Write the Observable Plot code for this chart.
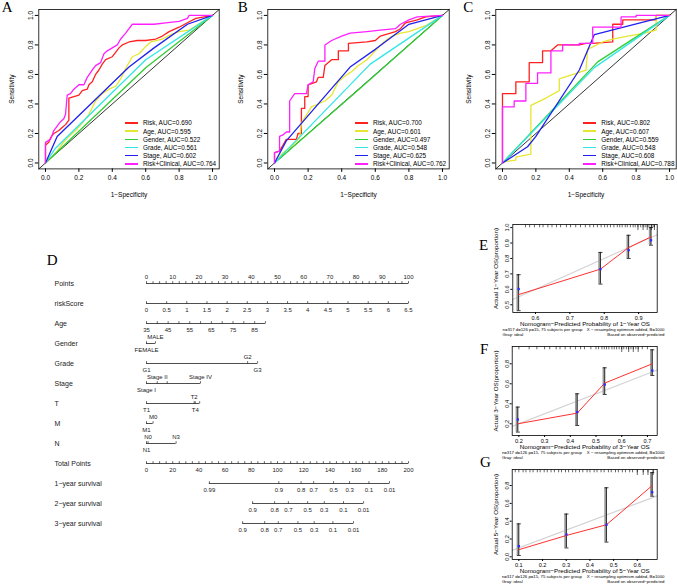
<!DOCTYPE html>
<html><head><meta charset="utf-8">
<script src="https://cdn.jsdelivr.net/npm/d3@7"></script>
<script src="https://cdn.jsdelivr.net/npm/@observablehq/plot@0.6"></script>
<style>
body{margin:0;background:#fff;}
#fig{position:relative;width:677px;height:585px;overflow:hidden;background:#fff;font-family:"Liberation Sans",Arial,sans-serif;}
.panel{position:absolute;}
.panel svg{background:transparent !important;}
.letter{position:absolute;font-family:"Liberation Serif","Times New Roman",serif;font-size:15px;line-height:15px;color:#000;}
.legend{position:absolute;font-size:6.4px;color:#000;}
.legend .row{display:flex;align-items:center;height:8.2px;white-space:nowrap;}
.legend .sw{display:inline-block;width:13px;height:1.5px;margin-right:5px;}
</style></head><body><div id="fig"></div><script>
// ---------------- ROC data ----------------
const seriesNames = ["Risk","Age","Gender","Grade","Stage","Risk+Clinical"];
const seriesColors = ["#ff2020","#e6e632","#32cd32","#32e6e6","#2020f0","#ff20ff"];
const aucA = [0.690,0.595,0.522,0.561,0.602,0.764];
const aucB = [0.700,0.601,0.497,0.548,0.625,0.762];
const aucC = [0.802,0.607,0.559,0.548,0.608,0.788];
const rocTicks = [0,0.2,0.4,0.6,0.8,1.0];
const rocDomain = [-0.04,1.04];

const rocA_risk = [[0,0],[0,0.12],[0.02,0.14],[0.03,0.17],[0.05,0.2],[0.08,0.22],[0.1,0.24],[0.12,0.26],[0.14,0.29],[0.14,0.44],[0.17,0.45],[0.2,0.46],[0.22,0.49],[0.25,0.5],[0.26,0.53],[0.28,0.55],[0.3,0.6],[0.32,0.63],[0.34,0.67],[0.36,0.7],[0.4,0.72],[0.42,0.75],[0.44,0.78],[0.46,0.8],[0.5,0.82],[0.55,0.83],[0.6,0.83],[0.66,0.84],[0.7,0.86],[0.74,0.89],[0.8,0.92],[0.85,0.95],[0.9,0.98],[1,1]];
const rocA_age = [[0,0],[0.03,0.03],[0.07,0.08],[0.1,0.13],[0.14,0.18],[0.18,0.22],[0.22,0.27],[0.26,0.33],[0.3,0.42],[0.34,0.47],[0.38,0.5],[0.42,0.52],[0.45,0.57],[0.48,0.64],[0.52,0.72],[0.56,0.74],[0.6,0.79],[0.63,0.82],[0.7,0.84],[0.75,0.87],[0.8,0.89],[0.86,0.9],[0.9,0.93],[1,1]];
const rocA_gender = [[0,0],[0.6,0.645],[1,1]];
const rocA_grade = [[0,0],[0.06,0.1],[0.6,0.7],[1,1]];
const rocA_stage = [[0,0],[0.07,0.18],[0.5,0.65],[0.65,0.78],[0.85,0.94],[1,1]];
const rocA_combo = [[0,0],[0,0.14],[0.03,0.16],[0.05,0.22],[0.07,0.25],[0.09,0.28],[0.11,0.3],[0.12,0.33],[0.13,0.46],[0.15,0.47],[0.17,0.5],[0.2,0.53],[0.23,0.53],[0.25,0.58],[0.28,0.63],[0.3,0.66],[0.33,0.68],[0.35,0.74],[0.37,0.76],[0.4,0.78],[0.43,0.8],[0.45,0.84],[0.48,0.88],[0.5,0.91],[0.52,0.94],[0.65,0.94],[0.72,0.95],[0.8,0.96],[0.85,0.98],[0.86,1],[1,1]];

const rocB_risk = [[0,0],[0,0.07],[0.03,0.08],[0.05,0.12],[0.07,0.16],[0.13,0.16],[0.14,0.2],[0.16,0.2],[0.16,0.37],[0.18,0.37],[0.18,0.45],[0.2,0.45],[0.2,0.53],[0.25,0.55],[0.26,0.58],[0.29,0.58],[0.3,0.66],[0.34,0.7],[0.38,0.7],[0.38,0.76],[0.44,0.76],[0.44,0.81],[0.55,0.82],[0.6,0.83],[0.63,0.86],[0.72,0.89],[0.75,0.91],[0.78,0.95],[0.85,0.97],[0.9,0.99],[1,1]];
const rocB_age = [[0,0],[0.05,0.07],[0.1,0.11],[0.15,0.17],[0.16,0.27],[0.22,0.38],[0.3,0.42],[0.34,0.46],[0.38,0.55],[0.42,0.59],[0.46,0.62],[0.5,0.66],[0.55,0.7],[0.6,0.76],[0.65,0.82],[0.7,0.86],[0.75,0.88],[0.8,0.89],[0.9,0.93],[1,1]];
const rocB_gender = [[0,0],[0.5,0.497],[1,1]];
const rocB_grade = [[0,0],[0.05,0.06],[0.57,0.67],[1,1]];
const rocB_stage = [[0,0],[0.07,0.15],[0.45,0.65],[0.6,0.77],[0.8,0.94],[1,1]];
const rocB_combo = [[0,0],[0,0.07],[0.03,0.08],[0.03,0.18],[0.05,0.19],[0.07,0.21],[0.09,0.21],[0.09,0.42],[0.12,0.47],[0.19,0.47],[0.2,0.53],[0.23,0.55],[0.24,0.64],[0.26,0.69],[0.3,0.69],[0.3,0.8],[0.34,0.83],[0.4,0.86],[0.45,0.88],[0.55,0.89],[0.63,0.9],[0.72,0.91],[0.75,0.94],[0.8,0.97],[0.85,0.99],[1,1]];

const rocC_risk = [[0,0],[0,0.47],[0.08,0.47],[0.08,0.55],[0.16,0.55],[0.16,0.68],[0.24,0.68],[0.24,0.76],[0.29,0.76],[0.33,0.8],[0.46,0.8],[0.5,0.81],[0.54,0.81],[0.66,0.82],[0.66,0.94],[0.72,0.94],[0.72,0.97],[0.92,0.97],[0.92,1],[1,1]];
const rocC_age = [[0,0],[0.02,0.01],[0.08,0.02],[0.08,0.04],[0.17,0.06],[0.17,0.39],[0.26,0.44],[0.34,0.49],[0.34,0.57],[0.5,0.63],[0.51,0.77],[0.6,0.82],[0.66,0.84],[0.75,0.86],[0.85,0.88],[0.92,0.9],[0.92,1],[1,1]];
const rocC_gender = [[0,0],[0.57,0.685],[1,1]];
const rocC_grade = [[0,0],[0.55,0.646],[1,1]];
const rocC_stage = [[0,0],[0.15,0.11],[0.2,0.18],[0.46,0.63],[0.55,0.87],[1,1]];
const rocC_combo = [[0,0],[0,0.38],[0.07,0.38],[0.07,0.42],[0.14,0.42],[0.14,0.54],[0.21,0.54],[0.21,0.61],[0.29,0.61],[0.29,0.76],[0.36,0.76],[0.36,0.8],[0.46,0.8],[0.46,0.81],[0.54,0.81],[0.54,0.92],[0.71,0.92],[0.71,0.99],[0.8,0.99],[0.8,1],[1,1]];

// ---------------- Nomogram data ----------------
const nomoRows = ["Points","riskScore","Age","Gender","Grade","Stage","T","M","N","Total Points","1\u2212year survival","2\u2212year survival","3\u2212year survival"];
const pointsLabels = [0,10,20,30,40,50,60,70,80,90,100];
const riskScoreLabels = [0,0.5,1,1.5,2,2.5,3,3.5,4,4.5,5,5.5,6,6.5];
const ageLabels = [35,45,55,65,75,85];
const ageRange = [35,90];
const ageMaxPoints = 45.4;
const genderLevels = ["FEMALE","MALE"], genderPoints = [0,3.4], genderSide = ["below","above"];
const gradeLevels = ["G1","G2","G3"], gradePoints = [0,38.6,42.4], gradeSide = ["below","above","below"];
const stageLevels = ["Stage I","Stage II","Stage III","Stage IV"], stagePoints = [0,4.1,7.9,20.6], stageSide = ["below","above","none","above"];
const tLevels = ["T1","T2","T3","T4"], tPoints = [0,18.2,20.3,18.6], tSide = ["below","above","none","below"];
const mLevels = ["M1","M0"], mPoints = [0,2.5], mSide = ["below","above"];
const nLevels = ["N1","N0","N3"], nPoints = [0,0.6,11.3], nSide = ["below","above","above"];
const totalPointsLabels = [0,20,40,60,80,100,120,140,160,180,200];
const surv1Labels = ["0.99","0.9","0.8","0.7","0.5","0.3","0.1","0.01"], surv1Total = [48,101,118,127.6,142.8,155,169.8,185.5];
const surv2Labels = ["0.9","0.8","0.7","0.5","0.3","0.1","0.01"], surv2Total = [81,97.8,108.3,123,135.7,150.4,165.7];
const surv3Labels = ["0.9","0.8","0.7","0.5","0.3","0.1","0.01"], surv3Total = [73.4,90.2,100.6,115.6,128,142.3,158];

// ---------------- Calibration data ----------------
const calFoot = ["n=317 d=126 p=15, 75 subjects per group","X \u2212 resampling optimism added, B=1000","Gray: ideal","Based on observed\u2212predicted"];
const predE = [0.551,0.789,0.871,0.936], fitE = [0.566,0.731,0.871,0.94], obsE = [0.602,0.731,0.854,0.918], loE = [0.462,0.634,0.80,0.886], hiE = [0.695,0.839,0.95,1.0];
const predF = [0.196,0.427,0.534,0.719], fitF = [0.20,0.307,0.607,0.80], obsF = [0.243,0.317,0.593,0.733], loF = [0.117,0.183,0.493,0.683], hiF = [0.367,0.50,0.76,0.94];
const predG = [0.1,0.301,0.47,0.663], fitG = [0.08,0.24,0.36,0.80], obsG = [0.12,0.25,0.36,0.725], loG = [0.015,0.10,0.165,0.68], hiG = [0.37,0.48,0.775,0.945];
const rugE = [0.571,0.583,0.597,0.612,0.622,0.636,0.648,0.661,0.673,0.69,0.702,0.717,0.731,0.745,0.758,0.769,0.78,0.791,0.801,0.809,0.818,0.828,0.838,0.845,0.852,0.861,0.867,0.876,0.884,0.89,0.898,0.906,0.913,0.919,0.925,0.93,0.937,0.942,0.946];
const rugE_long = [0.898,0.913,0.925,0.937,0.946];
const rugF = [0.2,0.24,0.27,0.3,0.32,0.345,0.36,0.38,0.4,0.42,0.44,0.455,0.48,0.5,0.51,0.523,0.532,0.541,0.55,0.562,0.571,0.58,0.59,0.6,0.608,0.618,0.627,0.636,0.645,0.655,0.664,0.68,0.7];
const rugF_long = [0.6,0.627,0.645,0.664];
const rugG = [0.085,0.1,0.118,0.13,0.147,0.16,0.178,0.19,0.207,0.22,0.236,0.25,0.268,0.28,0.297,0.31,0.327,0.34,0.356,0.37,0.388,0.4,0.418,0.43,0.447,0.46,0.478,0.49,0.508,0.52,0.537,0.55,0.568,0.58,0.6,0.625,0.645,0.667];
const rugG_long = [0.6,0.625,0.645,0.667];

// ---------------- helpers ----------------
const fig = document.getElementById("fig");
const FONT = "Liberation Sans, Arial, Helvetica, sans-serif";
function place(node, left, top, width) {
  const d = document.createElement("div");
  d.className = "panel"; d.style.left = left + "px"; d.style.top = top + "px"; d.style.width = width + "px";
  d.appendChild(node); fig.appendChild(d); return d;
}
function letter(t, left, top) {
  const d = document.createElement("div"); d.className = "letter"; d.textContent = t;
  d.style.left = left + "px"; d.style.top = top + "px"; fig.appendChild(d);
}
const tickUpSym = {draw(ctx, size) { const l = Math.sqrt(size / Math.PI); ctx.moveTo(0, 0); ctx.lineTo(0, -l); }};
const tickDownSym = {draw(ctx, size) { const l = Math.sqrt(size / Math.PI); ctx.moveTo(0, 0); ctx.lineTo(0, l); }};
const capSym = {draw(ctx, size) { const l = Math.sqrt(size / Math.PI); ctx.moveTo(-l, 0); ctx.lineTo(l, 0); }};

// ---------------- ROC panels ----------------
function rocPanel(left, width, marginLeft, marginRight, curves) {
  const data = curves.flatMap((c, k) => c.map(([fpr, tpr]) => ({series: seriesNames[k], fpr, tpr})));
  const diag = rocDomain.map(v => ({fpr: v, tpr: v}));
  const chart = Plot.plot({
    width, height: 205, marginTop: 9, marginBottom: 36.6, marginLeft, marginRight,
    style: {fontFamily: FONT, fontSize: "6.5px", color: "#000", background: "transparent", overflow: "visible"},
    x: {domain: rocDomain, ticks: rocTicks, tickFormat: ".1f", tickSize: 3.5, tickPadding: 3, label: null},
    y: {domain: rocDomain, ticks: rocTicks, tickFormat: ".1f", tickSize: 3.5, tickPadding: 2, tickRotate: -90, label: null},
    color: {domain: seriesNames, range: seriesColors},
    marks: [
      Plot.line(diag, {x: "fpr", y: "tpr", stroke: "#000", strokeWidth: 0.8}),
      Plot.line(data, {x: "fpr", y: "tpr", z: "series", stroke: "series", strokeWidth: 1.3}),
      Plot.frame({stroke: "#000", strokeWidth: 0.8}),
      Plot.text(["1\u2212Specificity"], {text: d => d, frameAnchor: "bottom", textAnchor: "middle", lineAnchor: "middle", dy: 25.6}),
      Plot.text(["Sensitivity"], {text: d => d, frameAnchor: "left", textAnchor: "middle", lineAnchor: "middle", dx: -26.6, rotate: -90})
    ]
  });
  place(chart, left, 0, width);
}
function rocLegend(left, aucs) {
  const d = document.createElement("div"); d.className = "legend";
  d.style.left = left + "px"; d.style.top = "118.9px";
  seriesNames.forEach((n, i) => {
    const r = document.createElement("div"); r.className = "row";
    const s = document.createElement("span"); s.className = "sw"; s.style.background = seriesColors[i];
    const t = document.createElement("span"); t.textContent = `${n}, AUC=${aucs[i].toFixed(3)}`;
    r.appendChild(s); r.appendChild(t); d.appendChild(r);
  });
  fig.appendChild(d);
}
rocPanel(0, 227, 38.3, 8.3, [rocA_risk, rocA_age, rocA_gender, rocA_grade, rocA_stage, rocA_combo]);
rocPanel(227, 227, 40.3, 5.3, [rocB_risk, rocB_age, rocB_gender, rocB_grade, rocB_stage, rocB_combo]);
rocPanel(450, 227, 45.3, 1.3, [rocC_risk, rocC_age, rocC_gender, rocC_grade, rocC_stage, rocC_combo]);
rocLegend(125, aucA); rocLegend(355, aucB); rocLegend(583.3, aucC);

// ---------------- Nomogram ----------------
{
  const ticks = [], labels = [];
  d3.range(0, 100 + 1e-9, 2.5).forEach(v => ticks.push({row: "Points", x: v}));
  pointsLabels.forEach(v => labels.push({row: "Points", x: v, text: String(v), side: "above"}));
  const rsMax = riskScoreLabels[riskScoreLabels.length - 1];
  riskScoreLabels.forEach(v => { const x = v / rsMax * 100; ticks.push({row: "riskScore", x}); labels.push({row: "riskScore", x, text: String(v), side: "below"}); });
  const ageX = a => (a - ageRange[0]) / (ageRange[1] - ageRange[0]) * ageMaxPoints;
  d3.range(ageRange[0], ageRange[1] + 1e-9, 5).forEach(a => ticks.push({row: "Age", x: ageX(a)}));
  ageLabels.forEach(a => labels.push({row: "Age", x: ageX(a), text: String(a), side: "below"}));
  const cat = (row, lv, pts, side) => lv.forEach((l, i) => { ticks.push({row, x: pts[i]}); if (side[i] !== "none") labels.push({row, x: pts[i], text: l, side: side[i]}); });
  cat("Gender", genderLevels, genderPoints, genderSide);
  cat("Grade", gradeLevels, gradePoints, gradeSide);
  cat("Stage", stageLevels, stagePoints, stageSide);
  cat("T", tLevels, tPoints, tSide);
  cat("M", mLevels, mPoints, mSide);
  cat("N", nLevels, nPoints, nSide);
  const tpMax = totalPointsLabels[totalPointsLabels.length - 1];
  const tpX = tp => tp / tpMax * 100;
  d3.range(0, tpMax + 1e-9, 5).forEach(v => ticks.push({row: "Total Points", x: tpX(v)}));
  totalPointsLabels.forEach(v => labels.push({row: "Total Points", x: tpX(v), text: String(v), side: "below"}));
  [[nomoRows[10], surv1Labels, surv1Total], [nomoRows[11], surv2Labels, surv2Total], [nomoRows[12], surv3Labels, surv3Total]].forEach(([row, lb, tot]) => {
    tot.forEach((t, i) => { ticks.push({row, x: tpX(t)}); labels.push({row, x: tpX(t), text: lb[i], side: "below"}); });
  });
  const segs = d3.rollups(ticks, v => [d3.min(v, d => d.x), d3.max(v, d => d.x)], d => d.row).map(([row, [x1, x2]]) => ({row, x1, x2}));
  const chart = Plot.plot({
    width: 470, height: 300, marginTop: 32, marginBottom: 27, marginLeft: 146, marginRight: 62,
    style: {fontFamily: FONT, fontSize: "6px", color: "#222", background: "transparent", overflow: "visible"},
    x: {domain: [0, 100], axis: null},
    y: {type: "point", domain: nomoRows, padding: 0, axis: null},
    marks: [
      Plot.ruleY(segs, {y: "row", x1: "x1", x2: "x2", stroke: "#222", strokeWidth: 0.8}),
      Plot.dot(ticks, {x: "x", y: "row", symbol: tickUpSym, r: 2.3, stroke: "#222", fill: "none", strokeWidth: 0.7}),
      Plot.text(labels.filter(d => d.side === "above"), {x: "x", y: "row", text: "text", dy: -6.5, fill: "#222"}),
      Plot.text(labels.filter(d => d.side === "below"), {x: "x", y: "row", text: "text", dy: 6.5, fill: "#222"}),
      Plot.text(nomoRows, {y: d => d, text: d => d, frameAnchor: "left", textAnchor: "start", lineAnchor: "middle", dx: -92, fontSize: 7, fill: "#222"})
    ]
  });
  place(chart, 0, 250, 470);
}

// ---------------- Calibration panels ----------------
function calPanel(o) {
  const rows = o.pred.map((p, i) => ({pred: p, fit: o.fit[i], obs: o.obs[i], lo: o.lo[i], hi: o.hi[i]}));
  const ideal = o.xDomain.map(v => ({x: v, y: v}));
  const T = (txt, opts) => Plot.text([txt], {text: d => d, lineAnchor: "middle", ...opts});
  const chart = Plot.plot({
    width: 207, height: o.height, marginTop: 9, marginBottom: o.marginBottom, marginLeft: o.marginLeft, marginRight: o.marginRight,
    style: {fontFamily: FONT, fontSize: "5.6px", color: "#000", background: "transparent", overflow: "visible"},
    x: {domain: o.xDomain, ticks: o.xTicks, tickFormat: ".1f", tickSize: 2, tickPadding: 1.5, label: null},
    y: {domain: o.yDomain, ticks: o.yTicks, tickFormat: ".1f", tickSize: 2, tickPadding: 1.5, tickRotate: -90, label: null},
    marks: [
      Plot.line(ideal, {x: "x", y: "y", stroke: "#d4d4d4", strokeWidth: 1.2}),
      Plot.ruleX(rows, {x: "pred", y1: "lo", y2: "hi", stroke: "#9a9a9a", strokeWidth: 2.4, dx: -1}),
      Plot.ruleX(rows, {x: "pred", y1: "lo", y2: "hi", stroke: "#111", strokeWidth: 0.8}),
      Plot.dot(rows, {x: "pred", y: "lo", symbol: capSym, r: 2, stroke: "#111", fill: "none", strokeWidth: 0.8}),
      Plot.dot(rows, {x: "pred", y: "hi", symbol: capSym, r: 2, stroke: "#111", fill: "none", strokeWidth: 0.8}),
      Plot.line(rows, {x: "pred", y: "fit", stroke: "#ff3030", strokeWidth: 1}),
      Plot.dot(rows, {x: "pred", y: "obs", symbol: "square", r: 1.3, fill: "#2a2aff", stroke: "none"}),
      Plot.dot(o.rug, {x: d => d, frameAnchor: "top", symbol: tickDownSym, r: 2.8, stroke: "#000", fill: "none", strokeWidth: 0.6}),
      Plot.dot(o.rugLong, {x: d => d, frameAnchor: "top", symbol: tickDownSym, r: 5.5, stroke: "#000", fill: "none", strokeWidth: 0.6}),
      Plot.frame({stroke: "#000", strokeWidth: 0.8}),
      T(o.xTitle, {frameAnchor: "bottom", textAnchor: "middle", dy: 12, fontSize: 6.2}),
      T(o.yTitle, {frameAnchor: "left", textAnchor: "middle", dx: -16.3, rotate: -90, fontSize: 6.2}),
      T(calFoot[0], {frameAnchor: "bottom-left", textAnchor: "start", dx: -10.3, dy: 17, fontSize: 4.3}),
      T(calFoot[1], {frameAnchor: "bottom-right", textAnchor: "end", dx: 7.3, dy: 17, fontSize: 4.3}),
      T(calFoot[2], {frameAnchor: "bottom-left", textAnchor: "start", dx: -10.3, dy: 21.8, fontSize: 4.3}),
      T(calFoot[3], {frameAnchor: "bottom-right", textAnchor: "end", dx: 7.3, dy: 21.8, fontSize: 4.3})
    ]
  });
  place(chart, 470, o.top, 207);
}
calPanel({top: 215, height: 125, marginBottom: 28, marginLeft: 42.3, marginRight: 20.3,
  xDomain: [0.534, 0.954], yDomain: [0.45, 1.02], xTicks: [0.6,0.7,0.8,0.9], yTicks: [0.5,0.6,0.7,0.8,0.9,1.0],
  pred: predE, fit: fitE, obs: obsE, lo: loE, hi: hiE, rug: rugE, rugLong: rugE_long,
  xTitle: "Nomogram\u2212Predicted Probability of 1\u2212Year OS", yTitle: "Actual 1\u2212Year OS(proportion)"});
calPanel({top: 337, height: 122, marginBottom: 24, marginLeft: 41.7, marginRight: 20.3,
  xDomain: [0.174, 0.738], yDomain: [0.083, 0.973], xTicks: [0.2,0.3,0.4,0.5,0.6,0.7], yTicks: [0.2,0.4,0.6,0.8],
  pred: predF, fit: fitF, obs: obsF, lo: loF, hi: hiF, rug: rugF, rugLong: rugF_long,
  xTitle: "Nomogram\u2212Predicted Probability of 3\u2212Year OS", yTitle: "Actual 3\u2212Year OS(proportion)"});
calPanel({top: 460, height: 125, marginBottom: 26, marginLeft: 41.7, marginRight: 20.3,
  xDomain: [0.072, 0.684], yDomain: [-0.03, 0.98], xTicks: [0.1,0.2,0.3,0.4,0.5,0.6], yTicks: [0,0.2,0.4,0.6,0.8],
  pred: predG, fit: fitG, obs: obsG, lo: loG, hi: hiG, rug: rugG, rugLong: rugG_long,
  xTitle: "Nomogram\u2212Predicted Probability of 5\u2212Year OS", yTitle: "Actual 5\u2212Year OS(proportion)"});

// ---------------- panel letters ----------------
letter("A", 1.7, 0.1); letter("B", 237.7, 0.1); letter("C", 463.3, 0.4);
letter("D", 46.7, 253.1); letter("E", 479, 238.4); letter("F", 480, 342.4); letter("G", 480, 455);
</script></body></html>
